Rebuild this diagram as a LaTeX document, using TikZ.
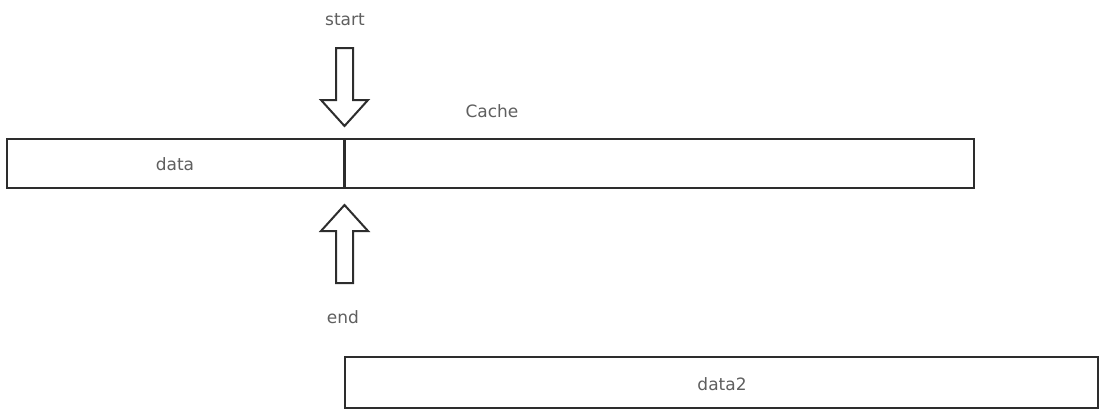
\documentclass[tikz,border=0pt]{standalone}
\usepackage{fontspec}
\setmainfont{DejaVu Sans}
\definecolor{linec}{RGB}{45,45,45}
\definecolor{textc}{RGB}{95,95,95}
\begin{document}
\begin{tikzpicture}[x=1pt,y=-1pt,
  box/.style={draw=linec, line width=2pt, fill=white, inner sep=0pt},
  lbl/.style={text=textc, font=\fontsize{17}{20}\selectfont, inner sep=0pt},
  hollow/.style={draw=linec, line width=2pt, line join=miter, fill=white},
  hollow arrow/.pic={
    \draw[hollow] (-8.5,0) -- (8.5,0) -- (8.5,52) -- (23.5,52) -- (0,78)
                  -- (-23.5,52) -- (-8.5,52) -- cycle;}]
\useasboundingbox[fill=white] (0,0) rectangle (1102,408);

% the cache buffer with its filled part
\node[box, minimum width=967pt, minimum height=49pt] (cache) at (490.5,163.5) {};
\coordinate (split) at (344.5,163.5);
\draw[draw=linec, line width=2.2pt] (split |- cache.north) -- (split |- cache.south);
\node[lbl] (data) at (175,164) {data};
\node[lbl] (cachelbl) at (492,111) {Cache};

% read / write pointers
\node[lbl] (start) at (345,20) {start};
\coordinate (starttail) at (344.5,48);
\pic at (starttail) {hollow arrow};
\coordinate (endtail) at (344.5,283);
\pic[rotate=180] at (endtail) {hollow arrow};
\node[lbl] (end) at (343,317) {end};

% second buffer
\node[box, minimum width=753pt, minimum height=51pt] (second) at (721.5,382.5) {};
\node[lbl] (data2) at (722,384) {data2};
\end{tikzpicture}
\end{document}
